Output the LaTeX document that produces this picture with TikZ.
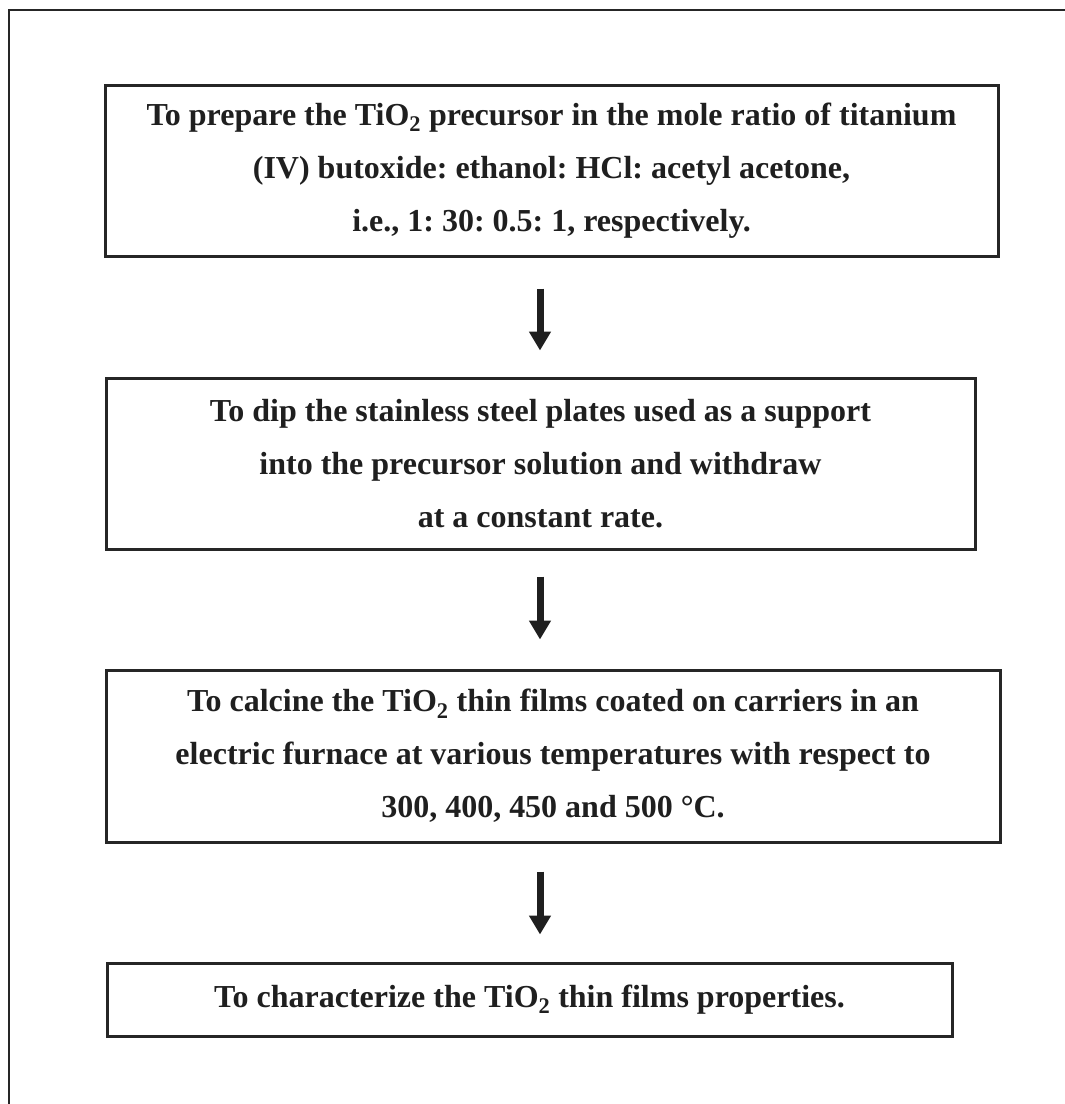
\documentclass[tikz,border=0pt]{standalone}
\usepackage{fontspec}
\setmainfont{Liberation Serif}
\usetikzlibrary{arrows.meta}
\frenchspacing
\begin{document}
\begin{tikzpicture}[x=1pt,y=-1pt,
  frame/.style={draw=black!85,line width=2.4pt},
  stepbox/.style={draw=black!85,line width=3pt,inner sep=0pt,align=center,
    font=\fontsize{32}{53}\selectfont\bfseries\frenchspacing,text=black!88},
  arr/.style={draw=black!88,line width=7pt,-{Triangle[width=21pt,length=19pt]}}]
\useasboundingbox (0,0) rectangle (1065,1104);
\coordinate (tl) at (9,10);
\coordinate (tr) at (1065,10);
\coordinate (bl) at (9,1104);
\draw[frame] (tr) -- (tl) -- (bl);
\coordinate (ax) at (540,0);
\node[stepbox,minimum width=893pt,minimum height=171pt] (b1) at (551.5,170.5)
  {To prepare the TiO\textsubscript{2} precursor in the mole ratio of titanium\\
   (IV) butoxide: ethanol: HCl: acetyl acetone,\\
   i.e., 1: 30: 0.5: 1, respectively.};
\node[stepbox,minimum width=869pt,minimum height=171pt] (b2) at (540.5,463.5)
  {To dip the stainless steel plates used as a support\\
   into the precursor solution and withdraw\\
   at a constant rate.};
\node[stepbox,minimum width=894pt,minimum height=172pt] (b3) at (553,756)
  {To calcine the TiO\textsubscript{2} thin films coated on carriers in an\\
   electric furnace at various temperatures with respect to\\
   300, 400, 450 and 500 °C.};
\node[stepbox,minimum width=845pt,minimum height=73pt] (b4) at (529.5,999.5)
  {To characterize the TiO\textsubscript{2} thin films properties.};
\draw[arr,shorten <=31pt,shorten >=26pt] (b1.south -| ax) -- (b2.north -| ax);
\draw[arr,shorten <=26pt,shorten >=29pt] (b2.south -| ax) -- (b3.north -| ax);
\draw[arr,shorten <=28pt,shorten >=27pt] (b3.south -| ax) -- (b4.north -| ax);
\end{tikzpicture}
\end{document}
